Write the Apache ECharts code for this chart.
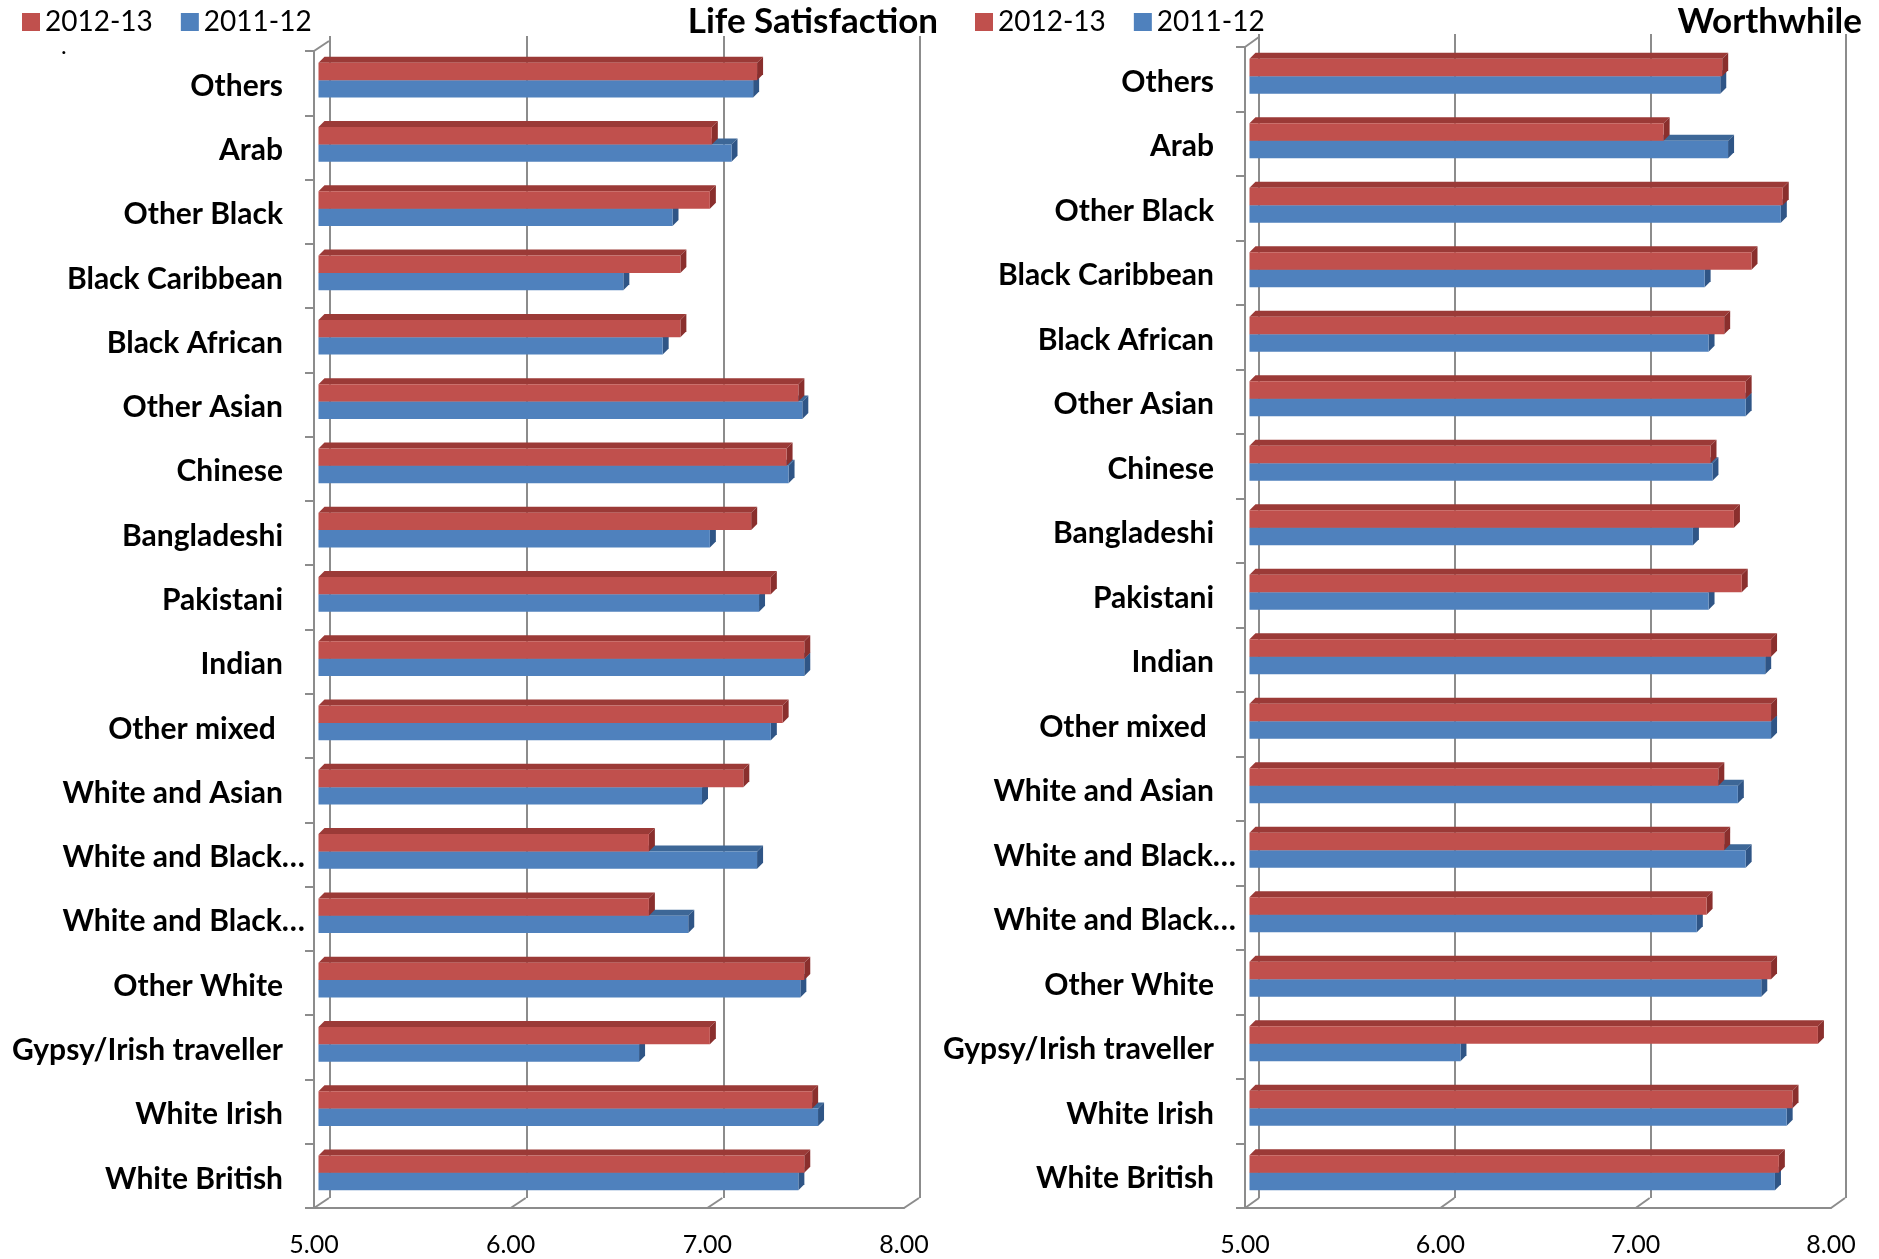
<!DOCTYPE html>
<html><head><meta charset="utf-8">
<script src="https://cdn.jsdelivr.net/npm/echarts@6/dist/echarts.min.js"></script>
<style>html,body{margin:0;padding:0;background:#fff}#c{width:1879px;height:1259px}</style>
</head><body><div id="c"></div>
<script>
// ---------------- data ----------------
const categories = ['Others','Arab','Other Black','Black Caribbean','Black African','Other Asian','Chinese','Bangladeshi','Pakistani','Indian','Other mixed ','White and Asian','White and Black…','White and Black…','Other White','Gypsy/Irish traveller','White Irish','White British'];
const lifeSat_2012_13 = [7.23,7.00,6.99,6.84,6.84,7.44,7.38,7.20,7.30,7.47,7.36,7.16,6.68,6.68,7.47,6.99,7.51,7.47];
const lifeSat_2011_12 = [7.21,7.10,6.80,6.55,6.75,7.46,7.39,6.99,7.24,7.47,7.30,6.95,7.23,6.88,7.45,6.63,7.54,7.44];
const worth_2012_13   = [7.42,7.12,7.73,7.57,7.43,7.54,7.36,7.48,7.52,7.67,7.67,7.40,7.43,7.34,7.67,7.91,7.78,7.71];
const worth_2011_12   = [7.41,7.45,7.72,7.33,7.35,7.54,7.37,7.27,7.35,7.64,7.67,7.50,7.54,7.29,7.62,6.08,7.75,7.69];
const xTickValues = [5,6,7,8];
const xTickLabels = ['5.00','6.00','7.00','8.00'];
const seriesNames = ['2012-13','2011-12'];
const chartTitles = ['Life Satisfaction','Worthwhile'];

// ---------------- styles ----------------
const FONT = 'Lato, "Open Sans", sans-serif';
const GRID_COLOR = '#8c8c8c';
const RED = {front:'#C0504D', top:'#9B3A37', side:'#8A2F2D'};
const BLUE = {front:'#4F81BD', top:'#3D6797', side:'#2F5586'};
const AXIS_MIN = 5, AXIS_MAX = 8;

const panels = [
  {front:{left:314, top:51, width:590, height:1157}, back:{left:330, top:36, width:590, height:1162}, depth:[15,-10],
   legendLeft:17, titleRight:938, red:lifeSat_2012_13, blue:lifeSat_2011_12, title:chartTitles[0]},
  {front:{left:1245, top:47, width:586, height:1161}, back:{left:1259, top:34, width:587, height:1164}, depth:[14,-10],
   legendLeft:970, titleRight:1862, red:worth_2012_13, blue:worth_2011_12, title:chartTitles[1]}
];

function barRenderer(isTop, colors){
  return function(params, api){
    const v = api.value(0), c = api.value(1);
    const p0 = api.coord([AXIS_MIN, c]);
    const p1 = api.coord([v, c]);
    const band = api.size([0,1])[1];
    const h = band*0.27;
    const ox = 4.5, oy = -3, dx = 6, dy = -6;
    const x0 = p0[0]+ox, x1 = p1[0]+ox;
    const yc = p0[1]+oy;
    const yT = isTop ? yc-h : yc;
    const yB = yT+h;
    return {type:'group', children:[
      {type:'polygon', shape:{points:[[x0,yT],[x1,yT],[x1+dx,yT+dy],[x0+dx,yT+dy]]}, style:{fill:colors.top}},
      {type:'polygon', shape:{points:[[x1,yT],[x1+dx,yT+dy],[x1+dx,yB+dy],[x1,yB]]}, style:{fill:colors.side}},
      {type:'rect', shape:{x:x0,y:yT,width:x1-x0,height:h}, style:{fill:colors.front}}
    ]};
  };
}
function decorRenderer(depth){
  return function(params, api){
    const cs = params.coordSys;
    const x = api.coord([api.value(0), 0])[0];
    const bottom = cs.y + cs.height;
    const children = [{type:'line', shape:{x1:x,y1:bottom,x2:x+depth[0],y2:bottom+depth[1]}, style:{stroke:GRID_COLOR,lineWidth:2}}];
    if (params.dataIndex === 0) {
      children.push({type:'line', shape:{x1:cs.x,y1:cs.y,x2:cs.x+depth[0],y2:cs.y+depth[1]}, style:{stroke:GRID_COLOR,lineWidth:2}});
    }
    return {type:'group', children};
  };
}

const grid = [], xAxis = [], yAxis = [], series = [], legend = [], graphic = [];
panels.forEach((p, i) => {
  const gFront = grid.length;
  grid.push(Object.assign({containLabel:false}, p.front));
  const gBack = grid.length;
  grid.push(Object.assign({containLabel:false}, p.back));
  // front axes
  xAxis.push({gridIndex:gFront, type:'value', min:AXIS_MIN, max:AXIS_MAX, interval:1,
    axisLine:{show:true, lineStyle:{color:GRID_COLOR,width:2}}, axisTick:{show:false}, splitLine:{show:false},
    axisLabel:{color:'#000', fontFamily:FONT, fontSize:25, margin:24,
      formatter:v => xTickLabels[xTickValues.indexOf(v)]}});
  yAxis.push({gridIndex:gFront, type:'category', inverse:true, data:categories, boundaryGap:true,
    axisLine:{show:true, lineStyle:{color:GRID_COLOR,width:2}},
    axisTick:{show:true, length:9, lineStyle:{color:GRID_COLOR,width:2}},
    axisLabel:{margin:9, interval:0,
      formatter:v => v.endsWith('…') ? '{n|'+v+'}' : '{n|'+v+'}{p| }',
      rich:{n:{fontFamily:FONT, fontWeight:'bold', fontSize:30, color:'#000', padding:[6,0,0,0]},
            p:{width:22, fontSize:30, padding:[6,0,0,0]}}}});
  // back wall axes
  xAxis.push({gridIndex:gBack, type:'value', min:AXIS_MIN, max:AXIS_MAX, interval:1,
    axisLine:{show:false}, axisTick:{show:false}, axisLabel:{show:false},
    splitLine:{show:true, lineStyle:{color:GRID_COLOR,width:2}}});
  yAxis.push({gridIndex:gBack, type:'value', show:false});

  const xi = gFront, yi = gFront;
  series.push({type:'custom', xAxisIndex:xi, yAxisIndex:yi, renderItem:decorRenderer(p.depth),
    data:xTickValues.map(v => [v, 0]), silent:true, z:1});
  series.push({type:'custom', name:seriesNames[1], xAxisIndex:xi, yAxisIndex:yi, itemStyle:{color:BLUE.front},
    renderItem:barRenderer(false, BLUE), data:p.blue.map((v,k) => [v,k]), encode:{x:0,y:1}, z:2});
  series.push({type:'custom', name:seriesNames[0], xAxisIndex:xi, yAxisIndex:yi, itemStyle:{color:RED.front},
    renderItem:barRenderer(true, RED), data:p.red.map((v,k) => [v,k]), encode:{x:0,y:1}, z:3});

  legend.push({left:p.legendLeft, top:3, orient:'horizontal', data:seriesNames, icon:'rect',
    itemWidth:18, itemHeight:18, itemGap:28, selectedMode:false,
    textStyle:{fontFamily:FONT, fontSize:28, color:'#000'}});
  graphic.push({type:'text', right:1879-p.titleRight, top:4,
    style:{text:p.title, fontFamily:FONT, fontWeight:'bold', fontSize:35, fill:'#000'}});
});
graphic.push({type:'text', left:61, top:34, style:{text:'.', fontFamily:FONT, fontSize:24, fill:'#000'}});

const chart = echarts.init(document.getElementById('c'), null, {renderer:'canvas'});
chart.setOption({backgroundColor:'#fff', animation:false, grid, xAxis, yAxis, series, legend, graphic});
</script></body></html>
